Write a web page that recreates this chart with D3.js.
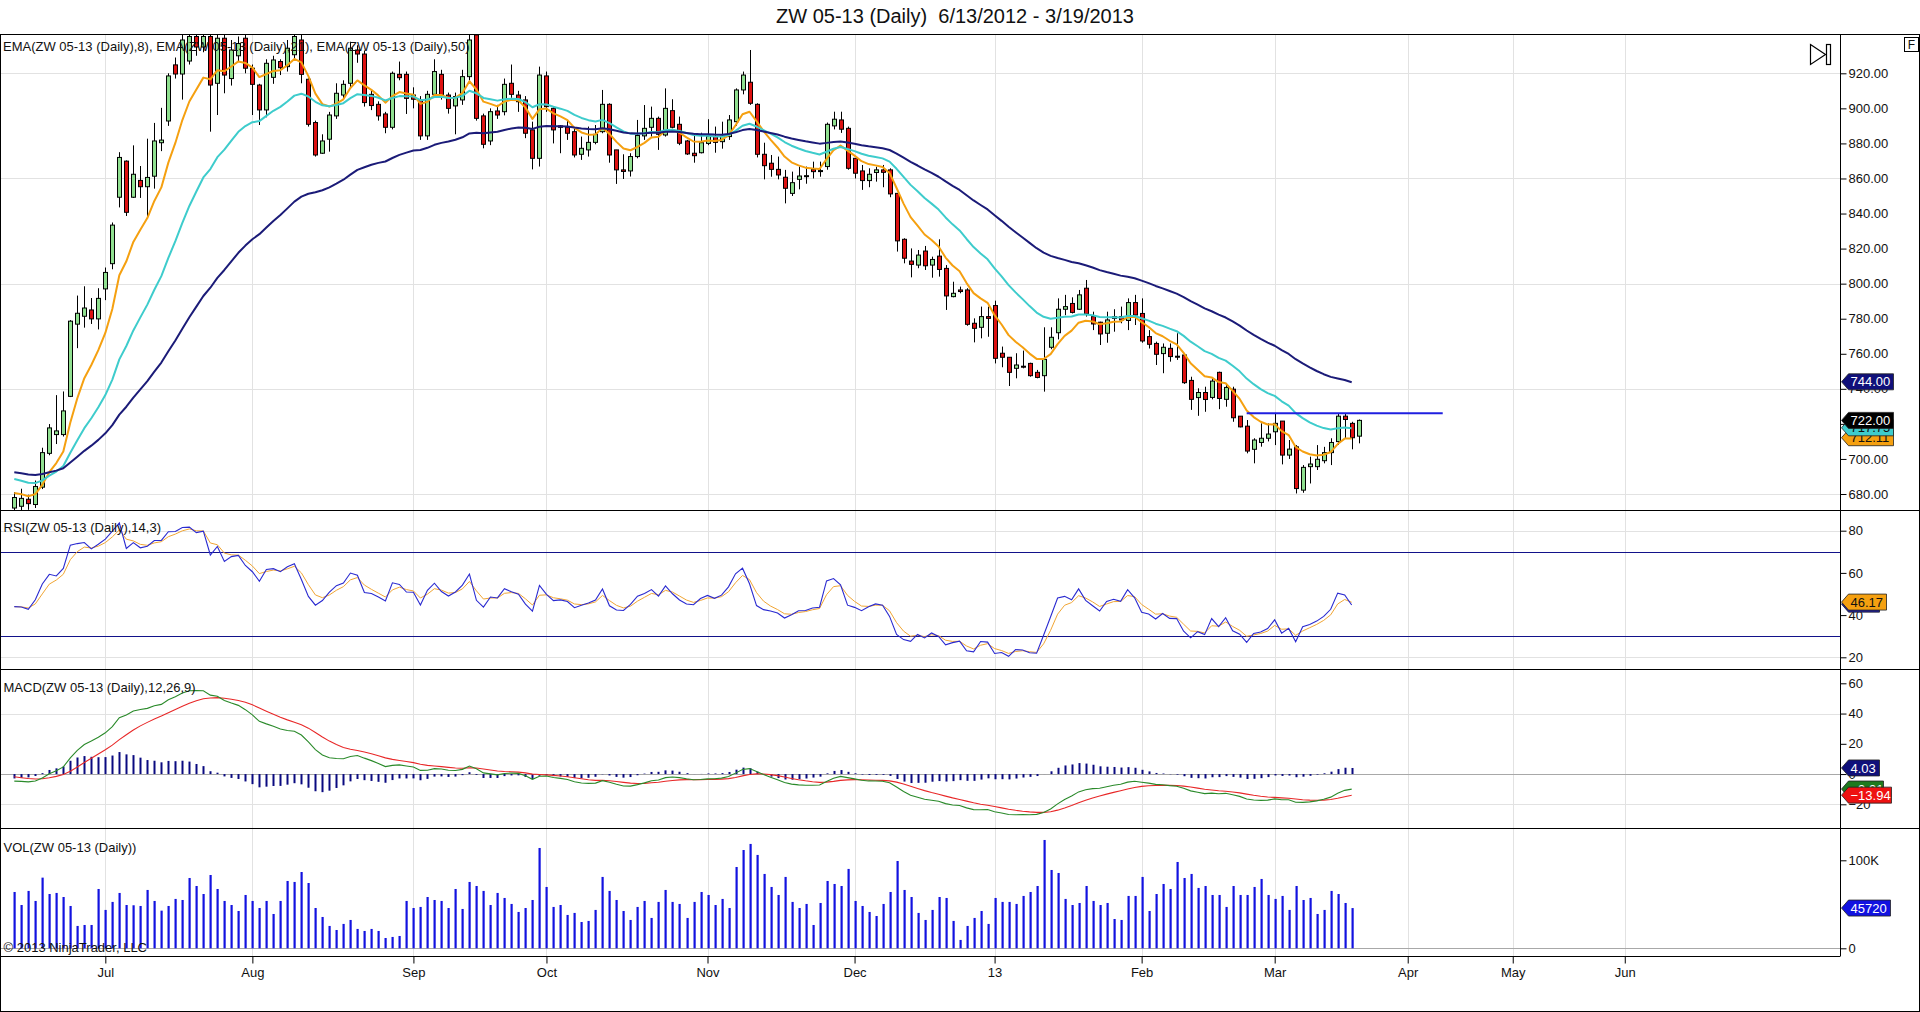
<!DOCTYPE html>
<html><head><meta charset="utf-8">
<script src="https://cdn.jsdelivr.net/npm/d3@7"></script>
<style>
body{margin:0;background:#fff;}
svg{display:block;font-family:"Liberation Sans",Arial,sans-serif;}
</style>
</head><body>
<svg id="c" width="1920" height="1012"></svg>
<script>
// ---------------- DATA ----------------
const opens=[672,673,677,674,683.9,703.2,713.9,713.9,735.7,776.9,
781.4,785,779.9,797,811.4,849.3,869.9,849.3,858.9,855.3,
861.3,880.4,892.8,924.8,919.6,927,941,935,941,914.3,
940,917,930,940,922.9,913.3,899.1,917.7,926.7,923.8,
930.6,939,916.6,891.9,874.4,882.4,895.7,907.6,914.3,933.3,
931,908,902.3,896.8,889.2,919.4,919.4,907.6,904.8,884.3,
908,919.4,907.6,901.4,904.8,918.1,941.9,895.7,881.4,898.5,
898.1,914.3,907.6,904.8,887.7,871.5,918.5,900,890,889.2,
886.7,873.8,876.3,880.6,886.7,902.3,876.3,864.9,864.3,872.5,
884.3,889.2,894.3,884.8,898.7,890.9,881.4,874.4,874.7,880,
884,881,883.9,892.4,910.5,914.9,902.3,873.8,868.7,865.2,
860.7,851.5,859.5,861.4,865.2,864,866.8,890,893.4,888.6,
871.5,864.3,858.8,863.4,864.9,864.9,851.5,825.3,812.9,810.6,
818.6,810.6,815.7,808.7,792.6,796.4,796.4,777.4,775.1,781.2,
787.5,760.3,758,751.7,752.9,754.5,749.4,747.5,763.7,772,
785.4,788.7,785.4,797.4,781.2,778,771.7,780.2,781.2,779,
789.2,783,769.8,765.9,760.1,763.1,758.6,759.3,744.8,735,
737.9,735.1,749.4,734,739.8,724.4,718.7,705.5,709.4,711.8,
715.5,721.6,702.2,706.9,682.2,695.6,695.6,699,703.6,709.9,
724.4,720.3,713];
const highs=[681,683,679.6,687.7,706.4,719.9,736.4,738.5,779.2,793.2,
798.5,791.8,797.4,809.2,834.9,875,870.3,878.9,867.1,882.7,
891.7,900.3,920,929,943,944,945,945,944,943,
943,939,941,944,925,914,928,930,928,939,
944,942,918,893,885.2,898,914.3,916,938,936,
933,910,904,898,921,926.7,921,912,907,910,
928,922,909,909,922,942,944,897,900,902,
917,925,910,907,892.4,923.8,921,901,890.5,893.4,
889,883.9,889.6,890.5,910.5,902.9,876.3,873.8,874.4,893.4,
901.9,901,895.3,911.4,905.2,895.3,882,885.8,886.1,893.8,
889.6,892.4,896.2,911.4,921,933.3,902.9,880.4,873.4,872.5,
864.9,863.9,866.8,866.8,869.6,869.6,891.9,898.1,898.1,889.6,
871.5,867.7,865.8,866.7,867.7,865.8,851.5,825.9,820.1,819.2,
821.5,815.4,825.3,810.6,801.1,798.3,797.4,780.2,786.9,786.9,
790.3,764.1,758,760.3,761.8,754.9,750.8,775.1,775.1,791.6,
793.6,792.2,796.4,802.1,784,778.3,784,785.4,786.9,791.6,
793.6,791.6,773.5,766.9,765.9,765.9,771.7,760.3,746.9,740.3,
741.2,746,749.8,743.1,741.2,724.4,722.2,711.8,720.3,720.3,
726.3,721.6,710.8,707.9,696.5,701.3,707.9,706.9,711.8,726,
726,721.2,722.5];
const lows=[669,670,671,672,682.8,702.1,708.5,712.8,735.3,763.2,
774.9,777,773.9,790.6,808.2,843.5,838.6,848.9,848.9,838.6,
854.2,875.6,890,917,905,925,930,932,886.7,896.2,
908.6,913,927,920,896.2,890.5,894.9,914,919,921,
928,914.3,889.6,872.5,874,875.3,894,905,912,926,
901,899,893,885.8,888,916,896.8,900,882,882,
906,905,897,885.2,902,916,893,877.2,879,894,
896,906,898,883,865.2,866.8,898,880,874.4,882,
872,870.6,872.5,879.5,885.8,869,856.9,859.7,861.1,871.5,
882,883.9,876.3,883.9,888.6,879,873.4,869,874.3,879,
874.7,877,882,890,908,902,872,859.5,861,859.5,
845.8,850,853.8,857,860,861,865,888,886,865,
860,853.5,855,858.2,855,849.3,818.3,811.6,803.6,808.8,
807.8,803.4,804,785,792.2,794.5,776,766.5,768.8,769.7,
754.5,752.3,741.6,746,751.7,746.9,746,738.4,762.6,768.2,
782,783,785,781.2,773.5,765,766.3,772.6,777.4,773.5,
776.4,766.3,763,753.6,748.9,755.5,756.5,742.8,728,724.6,
726.9,734,728.4,729.8,721.2,718,703.2,697.5,707,710,
707.9,696.9,700,680.3,680.7,686,693.7,697.5,696.5,708,
712,705.5,708.9];
const closes=[678,677.5,674.5,684.3,703.6,717.7,716,727.4,778.6,783.1,
786.1,779.9,791.6,806.4,833.4,872,840.7,862.4,855.3,860.6,
881.4,881.9,918.5,919.6,939,941,935,941,913.3,940,
919,933.3,937,922.9,913.7,899.1,925.7,927.6,923.2,934.3,
941,919.4,890.9,873.4,881.4,896.2,908.6,913.7,934.3,931,
903.3,901.6,895.7,889.2,920,917.5,905.7,905.2,884.3,908,
921,907.6,900,906.7,918.1,939,894.3,879.5,898.1,896.2,
913.7,908,903.8,885.8,871.5,919,901,887.7,889.2,885.8,
873.4,877.2,880.6,885.2,902.3,873.4,864.9,864,872.5,884.5,
888.6,894.3,885.2,900,889.2,880.1,874,873,880.4,884,
880.6,884,893.4,910.5,919,902.9,873.8,867.3,865.2,862,
854.4,857.6,861.4,861.6,863.9,864.5,890.9,893.8,888.1,865.8,
863,858.8,862.4,864.9,863.5,851.2,824.4,814.5,811,816.3,
810.2,813.8,808.1,793,794.5,795.5,776.8,774.5,781.2,780.2,
757.4,758,749.4,753.6,752.7,747.5,746.5,756.8,769.4,785.4,
786.9,783.6,793.6,782.7,777,771.3,779.3,781.2,779.3,789.2,
782.1,767.3,765.4,759.7,763.7,758.4,758.2,743.5,734,737.9,
733.9,744.4,734.5,740.8,723.5,718.3,704.5,710.8,711.8,714.2,
720.3,702.2,705.6,683.1,695.2,697.1,699.8,703.6,709.4,724.4,
722.5,712.1,722];
// volume in thousands of contracts (completed bars only)
const volumesK=[64.0,49.2,65.2,53.8,80.3,61.7,62.9,58.3,48.1,25.4,
26.5,26.5,67.4,43.6,52.7,62.9,49.2,48.9,48.1,66.3,
53.8,42.8,48.1,56.1,54.9,79.9,70.8,61.7,83.3,67.4,
53.8,49.2,42.4,60.6,53.8,45.8,53.8,39.0,53.8,76.5,
75.4,86.7,74.2,45.8,35.6,25.4,20.8,27.7,32.2,22.0,
19.7,22.0,19.7,11.7,12.9,14.0,53.8,45.8,47.0,58.3,
54.9,53.8,45.8,67.4,44.7,75.4,70.8,65.2,49.2,62.9,
57.2,50.4,41.3,45.8,54.9,114.0,69.7,47.0,49.2,37.9,
40.2,29.9,31.1,43.6,81.1,65.2,54.9,42.4,32.2,47.0,
53.8,34.5,52.7,66.3,52.7,50.4,34.5,52.7,64.0,60.6,
49.2,56.1,45.8,92.4,111.7,118.6,106.1,84.5,69.7,60.6,
81.1,52.7,45.8,50.4,26.5,51.5,76.5,73.1,70.8,90.2,
53.8,48.1,41.3,36.7,50.4,64.0,99.2,66.3,58.3,40.2,
32.2,43.6,58.3,57.2,31.1,9.5,25.4,34.5,42.4,27.7,
57.2,52.7,52.7,50.4,59.5,64.0,70.8,123.1,89.0,85.6,
56.1,49.2,51.5,70.8,53.8,49.2,51.5,33.3,32.2,59.5,
59.5,81.1,42.4,61.7,73.1,67.4,98.1,79.9,84.5,68.6,
70.8,60.6,60.6,47.0,70.8,60.6,60.6,69.7,78.8,60.6,
56.1,59.5,43.6,70.8,54.9,57.2,39.0,43.6,65.2,61.7,
51.5,45.72];

// month ticks (bar index of first trading day, future months projected)
const monthTickIdx=[13,34,57,76,99,120,140,161,180,199,214,230];
const monthTickLabels=["Jul","Aug","Sep","Oct","Nov","Dec","13","Feb","Mar","Apr","May","Jun"];
const priceTicks=[680,700,720,740,760,780,800,820,840,860,880,900,920];
const priceGrid=[680,740,800,860,920];
const rsiTicks=[20,40,60,80];
const rsiGrid=[20,80];
const rsiLevels=[30,70];
const macdTicks=[-20,0,20,40,60];
const macdGrid=[-20,40];
const volTicks=[0,100000];
const volTickLabels=["0","100K"];
// indicator starting values read at the first bar
const emaPeriods=[8,21,50];
const emaStart=[680.6,688.6,692.4];
const macdStart=[684,688.7,-1.8];   // EMA12, EMA26, signal at bar 0
const rsiStart=[4.4,5.6,44];        // avg up, avg down, smoothed RSI at bar 0
// drawn horizontal line (price, from bar, to bar)
const hLine=[726,176,204];
// last-value tags shown on the right axes
const priceTagVals=[712.11,717.75,722.00,744.00];
const rsiTagVals=[45.2,46.17];
const macdTagVals=[-9.91,-13.94,4.03];
const volTagVal=45720;

// ---------------- INDICATORS (on completed bars; last bar is still forming) ----------------
const done=closes.slice(0,volumesK.length);
function ema(vals,p,seed){const k=2/(p+1);let prev=seed;return vals.map((v,i)=>{if(i>0)prev=prev+k*(v-prev);return prev;});}
const emas=emaPeriods.map((p,j)=>ema(done,p,emaStart[j]));
const e12=ema(done,12,macdStart[0]), e26=ema(done,26,macdStart[1]);
const macd=e12.map((v,i)=>v-e26[i]);
const signal=ema(macd,9,macdStart[2]);
const diff=macd.map((v,i)=>v-signal[i]);
const rsi=(()=>{let au=rsiStart[0],ad=rsiStart[1];return done.map((c,i)=>{if(i>0){const d=c-done[i-1];au=(au*13+Math.max(d,0))/14;ad=(ad*13+Math.max(-d,0))/14;}return 100-100/(1+au/ad);});})();
const rsiAvg=ema(rsi,3,rsiStart[2]);

// ---------------- LAYOUT ----------------
const svg=d3.select('#c');
const W=1920,H=1012,AX=1840;
const panels={price:[34.5,510.5],rsi:[510.5,669.5],macd:[669.5,828.5],vol:[828.5,956.5]};
const x=d3.scaleLinear().domain([0,192]).range([14.3,1358.7]);
const yP=d3.scaleLinear().domain([680,920]).range([494,73.3]);
const yR=d3.scaleLinear().domain([20,80]).range([657.3,530.7]);
const yM=d3.scaleLinear().domain([-20,60]).range([804.3,683.3]);
const yV=d3.scaleLinear().domain([0,100000]).range([948.3,860.3]);
const idx=d3.range(closes.length);
const idxDone=d3.range(done.length);

svg.append('rect').attr('width',W).attr('height',H).attr('fill','#fff');
const defs=svg.append('defs');
Object.entries(panels).forEach(([k,[t,b]])=>{
  defs.append('clipPath').attr('id','clip-'+k).append('rect').attr('x',0).attr('y',t).attr('width',AX).attr('height',b-t);
});

// title
svg.append('text').attr('x',955).attr('y',23).attr('text-anchor','middle').attr('font-size',20)
  .style('white-space','pre').attr('fill','#111').text('ZW 05-13 (Daily)  6/13/2012 - 3/19/2013');

// grid
const grid=svg.append('g').attr('stroke','#e2e2e2').attr('stroke-width',1);
monthTickIdx.forEach(t=>grid.append('line').attr('x1',Math.round(x(t))+0.5).attr('x2',Math.round(x(t))+0.5).attr('y1',34.5).attr('y2',956.5));
priceGrid.forEach(v=>grid.append('line').attr('x1',0).attr('x2',AX).attr('y1',Math.round(yP(v))+0.5).attr('y2',Math.round(yP(v))+0.5));
rsiGrid.forEach(v=>grid.append('line').attr('x1',0).attr('x2',AX).attr('y1',Math.round(yR(v))+0.5).attr('y2',Math.round(yR(v))+0.5));
macdGrid.forEach(v=>grid.append('line').attr('x1',0).attr('x2',AX).attr('y1',Math.round(yM(v))+0.5).attr('y2',Math.round(yM(v))+0.5));
svg.append('line').attr('x1',0).attr('x2',AX).attr('y1',Math.round(yM(0))+0.5).attr('y2',Math.round(yM(0))+0.5).attr('stroke','#a8a8a8');
svg.append('line').attr('x1',0).attr('x2',AX).attr('y1',Math.round(yV(0))+0.5).attr('y2',Math.round(yV(0))+0.5).attr('stroke','#a8a8a8');

// ---------------- PRICE PANEL ----------------
const gp=svg.append('g').attr('clip-path','url(#clip-price)');
const cand=gp.selectAll('g.c').data(idx).join('g');
cand.append('line').attr('x1',i=>Math.round(x(i))+0.5).attr('x2',i=>Math.round(x(i))+0.5)
  .attr('y1',i=>yP(highs[i])).attr('y2',i=>yP(lows[i])).attr('stroke','#000').attr('stroke-width',1);
cand.append('rect').attr('x',i=>Math.round(x(i))-1.5).attr('width',4)
  .attr('y',i=>yP(Math.max(opens[i],closes[i])))
  .attr('height',i=>Math.max(1,Math.abs(yP(opens[i])-yP(closes[i]))))
  .attr('fill',i=>closes[i]>=opens[i]?'#90e090':'#dd1111').attr('stroke','#000').attr('stroke-width',1);
const emaColors=['#f5a010','#3ecccc','#1b1b78'];
emas.forEach((s,j)=>{
  gp.append('path').datum(s).attr('fill','none').attr('stroke',emaColors[j]).attr('stroke-width',2)
    .attr('stroke-linejoin','round').attr('d',d3.line().x((d,i)=>x(i)).y(d=>yP(d)));
});
gp.append('line').attr('x1',x(hLine[1])).attr('x2',x(hLine[2])).attr('y1',yP(hLine[0])).attr('y2',yP(hLine[0]))
  .attr('stroke','#1f1fe0').attr('stroke-width',2);

// ---------------- RSI PANEL ----------------
const gr=svg.append('g').attr('clip-path','url(#clip-rsi)');
rsiLevels.forEach(v=>gr.append('line').attr('x1',0).attr('x2',AX).attr('y1',Math.round(yR(v))+0.5).attr('y2',Math.round(yR(v))+0.5).attr('stroke','#12128a').attr('stroke-width',1));
gr.append('path').datum(rsiAvg).attr('fill','none').attr('stroke','#f0a534').attr('stroke-width',1).attr('d',d3.line().x((d,i)=>x(i)).y(d=>yR(d)));
gr.append('path').datum(rsi).attr('fill','none').attr('stroke','#2a2ad0').attr('stroke-width',1.1).attr('d',d3.line().x((d,i)=>x(i)).y(d=>yR(d)));

// ---------------- MACD PANEL ----------------
const gm=svg.append('g').attr('clip-path','url(#clip-macd)');
gm.selectAll('rect.h').data(idxDone).join('rect').attr('x',i=>Math.round(x(i))-0.5).attr('width',2)
  .attr('y',i=>Math.min(yM(0),yM(diff[i]))).attr('height',i=>Math.abs(yM(diff[i])-yM(0)))
  .attr('fill','#0a0a80');
gm.append('path').datum(signal).attr('fill','none').attr('stroke','#e82828').attr('stroke-width',1.1).attr('d',d3.line().x((d,i)=>x(i)).y(d=>yM(d)));
gm.append('path').datum(macd).attr('fill','none').attr('stroke','#2a8a2a').attr('stroke-width',1.1).attr('d',d3.line().x((d,i)=>x(i)).y(d=>yM(d)));

// ---------------- VOLUME PANEL ----------------
const gv=svg.append('g').attr('clip-path','url(#clip-vol)');
gv.selectAll('rect.v').data(idxDone).join('rect').attr('x',i=>Math.round(x(i))-0.5).attr('width',2.2)
  .attr('y',i=>yV(volumesK[i]*1000)).attr('height',i=>yV(0)-yV(volumesK[i]*1000)).attr('fill','#1212e0');

// ---------------- BORDERS ----------------
const bd=svg.append('g').attr('stroke','#000').attr('stroke-width',1).attr('fill','none');
bd.append('rect').attr('x',0.5).attr('y',34.5).attr('width',W-1).attr('height',H-35);
[510.5,669.5,828.5].forEach(y=>bd.append('line').attr('x1',0).attr('x2',W).attr('y1',y).attr('y2',y));
bd.append('line').attr('x1',0).attr('x2',AX).attr('y1',956.5).attr('y2',956.5);
bd.append('line').attr('x1',AX+0.5).attr('x2',AX+0.5).attr('y1',34.5).attr('y2',956.5);

// ---------------- AXES ----------------
function rightAxis(scale,vals,fmt){
  const g=svg.append('g').attr('transform',`translate(${AX+0.5},0)`)
    .call(d3.axisRight(scale).tickValues(vals).tickFormat(fmt).tickSize(6).tickPadding(2).tickSizeOuter(0));
  g.select('.domain').remove();
  g.selectAll('text').attr('font-size',13).attr('fill','#111').attr('font-family','"Liberation Sans",Arial,sans-serif');
  g.selectAll('line').attr('stroke','#000');
}
rightAxis(yP,priceTicks,d3.format('.2f'));
rightAxis(yR,rsiTicks,d3.format('d'));
rightAxis(yM,macdTicks,d3.format('d'));
rightAxis(yV,volTicks,(d,i)=>volTickLabels[i]);
const ba=svg.append('g').attr('transform','translate(0,956.5)')
  .call(d3.axisBottom(x).tickValues(monthTickIdx).tickFormat((d,i)=>monthTickLabels[i]).tickSize(7).tickPadding(4).tickSizeOuter(0));
ba.select('.domain').remove();
ba.selectAll('text').attr('font-size',13).attr('fill','#111').attr('font-family','"Liberation Sans",Arial,sans-serif');
ba.selectAll('line').attr('stroke','#000');

// ---------------- VALUE TAGS ----------------
function tag(yc,w,fill,tc,txt){
  const x0=AX+1.5,h=8;
  svg.append('polygon').attr('points',[[x0,yc],[x0+7,yc-h],[x0+w,yc-h],[x0+w,yc+h],[x0+7,yc+h]].map(p=>p.join(',')).join(' '))
    .attr('fill',fill).attr('stroke','#222').attr('stroke-width',0.8);
  svg.append('text').attr('x',x0+9).attr('y',yc+4.6).attr('font-size',13).attr('fill',tc).text(txt);
}
tag(yP(priceTagVals[0]),52,'#f5a010','#111',d3.format('.2f')(priceTagVals[0]));
tag(yP(priceTagVals[1]),52,'#3ecccc','#111',d3.format('.2f')(priceTagVals[1]));
tag(yP(priceTagVals[2]),52,'#000','#fff',d3.format('.2f')(priceTagVals[2]));
tag(yP(priceTagVals[3]),52,'#10107a','#fff',d3.format('.2f')(priceTagVals[3]));
tag(yR(rsiTagVals[0]),38,'#1f1fa0','#fff',d3.format('.2f')(rsiTagVals[0]));
tag(yR(rsiTagVals[1]),45,'#f5a010','#111',d3.format('.2f')(rsiTagVals[1]));
tag(yM(macdTagVals[0]),42,'#1e7a1e','#fff',d3.format('.2f')(macdTagVals[0]));
tag(yM(macdTagVals[1]),50,'#ee1111','#fff',d3.format('.2f')(macdTagVals[1]));
tag(yM(macdTagVals[2]),38,'#10107a','#fff',d3.format('.2f')(macdTagVals[2]));
tag(yV(volTagVal),49,'#1212e0','#fff',String(volTagVal));

// ---------------- LABELS & ICONS ----------------
const lab=svg.append('g').attr('font-size',13).attr('fill','#111');
lab.append('text').attr('x',3).attr('y',50.5).text('EMA(ZW 05-13 (Daily),8), EMA(ZW 05-13 (Daily),21), EMA(ZW 05-13 (Daily),50)');
lab.append('text').attr('x',3.5).attr('y',531.5).text('RSI(ZW 05-13 (Daily),14,3)');
lab.append('text').attr('x',3.5).attr('y',691.5).text('MACD(ZW 05-13 (Daily),12,26,9)');
lab.append('text').attr('x',3.5).attr('y',851.5).text('VOL(ZW 05-13 (Daily))');
lab.append('text').attr('x',3.5).attr('y',952).text('\u00A9 2013 NinjaTrader, LLC');
svg.append('path').attr('d','M1810.5,44.5 L1825.5,54.5 L1810.5,64.5 Z').attr('fill','#fff').attr('stroke','#000').attr('stroke-width',1.2);
svg.append('rect').attr('x',1826.5).attr('y',44.5).attr('width',4).attr('height',20).attr('fill','#fff').attr('stroke','#000').attr('stroke-width',1.2);
svg.append('rect').attr('x',1904.5).attr('y',37.5).attr('width',14).attr('height',14).attr('fill','#fff').attr('stroke','#000');
svg.append('text').attr('x',1911.5).attr('y',49).attr('text-anchor','middle').attr('font-size',12).attr('fill','#111').text('F');
</script>
</body></html>
